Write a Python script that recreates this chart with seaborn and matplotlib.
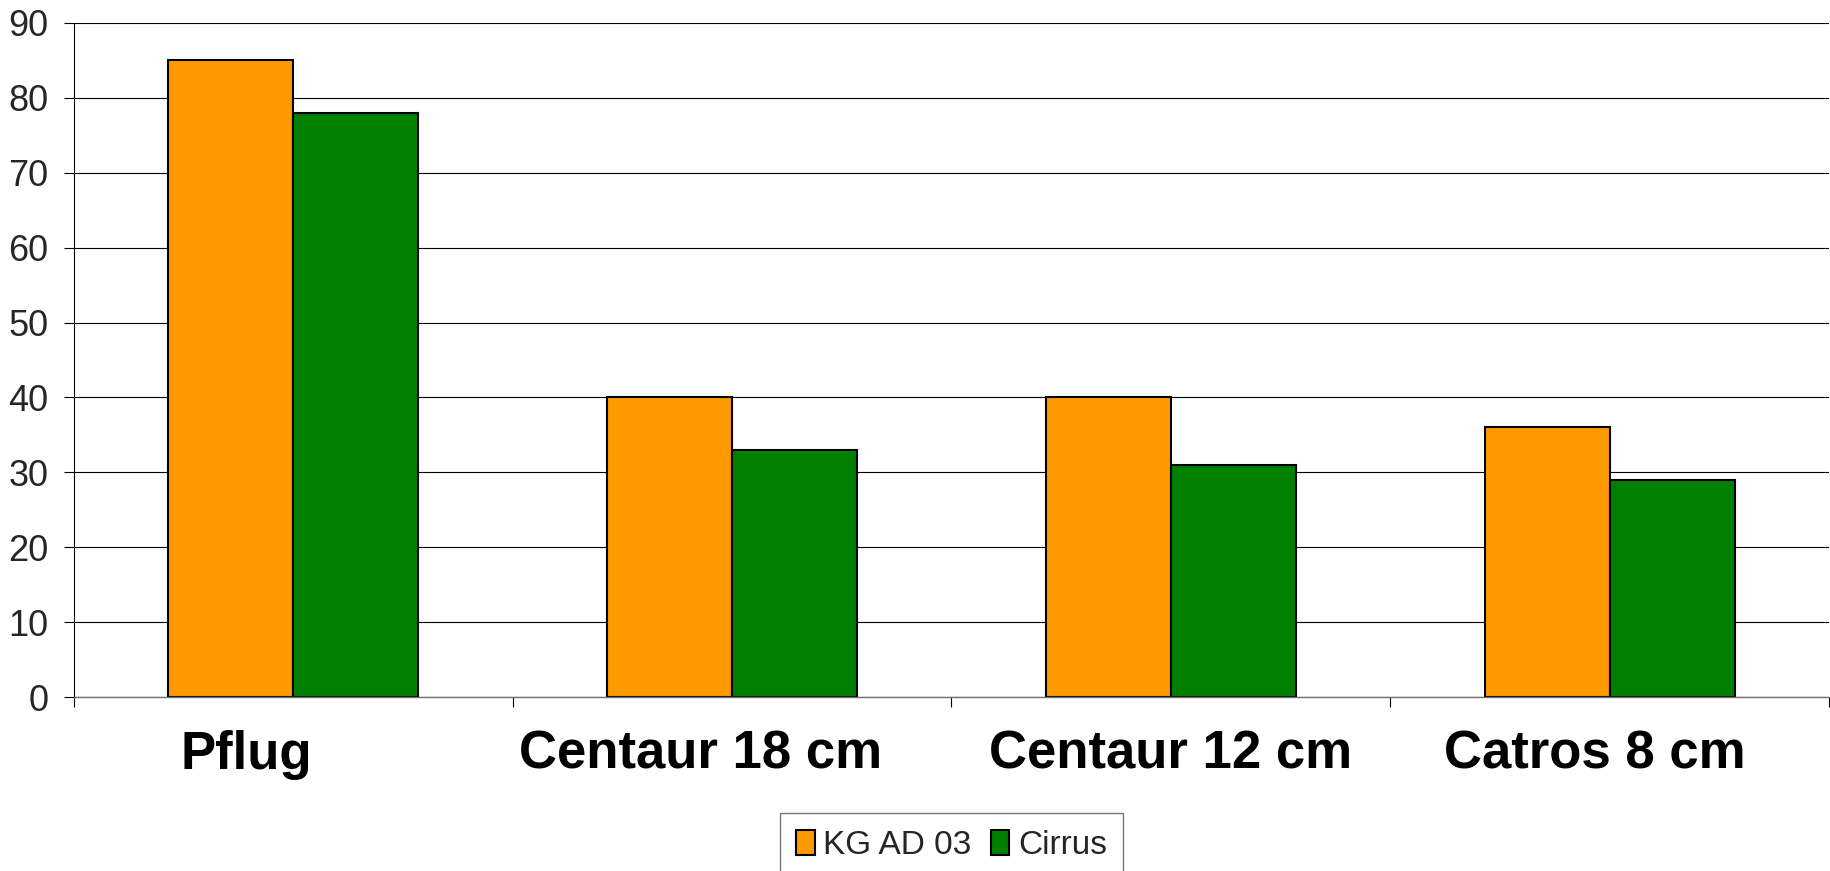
import matplotlib
matplotlib.use("Agg")
import matplotlib.pyplot as plt
import matplotlib.transforms as mtransforms
import numpy as np
import pandas as pd
import seaborn as sns

# Tillage variants and the two varieties compared
verfahren = ["Pflug", "Centaur 18 cm", "Centaur 12 cm", "Catros 8 cm"]
sorten = ["KG AD 03", "Cirrus"]
kg_ad_03 = [85, 40, 40, 36]
cirrus = [78, 33, 31, 29]
farben = ["#FF9900", "#008000"]
y_ticks = list(range(0, 100, 10))

df = pd.DataFrame({
    "Verfahren": verfahren * 2,
    "Sorte": [sorten[0]] * len(verfahren) + [sorten[1]] * len(verfahren),
    "Wert": kg_ad_03 + cirrus,
})

sns.set_style("white")
plt.rcParams["font.family"] = ["Liberation Sans", "DejaVu Sans"]

fig = plt.figure(figsize=(18.31, 8.71), dpi=100)
ax = fig.add_axes([74 / 1831, 1 - 697 / 871, (1829 - 74) / 1831, 674 / 871])

sns.barplot(data=df, x="Verfahren", y="Wert", hue="Sorte", order=verfahren,
            hue_order=sorten, palette=farben, width=0.57, edgecolor="black",
            linewidth=1.5, saturation=1, ax=ax)

ax.set_xlim(-0.5, len(verfahren) - 0.5)
ax.set_ylim(0, 90)
ax.set_yticks(y_ticks)
ax.set_axisbelow(True)
ax.yaxis.grid(True, color="black", linewidth=0.8)
ax.xaxis.grid(False)

for s in ["top", "right"]:
    ax.spines[s].set_visible(False)
ax.spines["left"].set_color("black")
ax.spines["left"].set_linewidth(0.8)
ax.spines["bottom"].set_color("#707070")
ax.spines["bottom"].set_linewidth(1.0)

ax.tick_params(axis="y", which="major", direction="out", length=7.2, width=0.8,
               color="black", labelsize=26, pad=11, left=True)
ax.set_xticks(np.arange(-0.5, len(verfahren), 1.0))
ax.set_xticklabels([])
ax.tick_params(axis="x", which="major", direction="out", length=7.2, width=0.8,
               color="black", bottom=True)
ax.set_xlabel("")
ax.set_ylabel("")

# Category names below the axis
label_shift = [-0.107, -0.071, 0.0, -0.034]
trans = mtransforms.blended_transform_factory(ax.transData, ax.transAxes)
for i, name in enumerate(verfahren):
    ax.text(i + label_shift[i], -0.1068, name, transform=trans, ha="center",
            va="baseline", fontsize=38, fontweight="bold", color="black")

handles, labels = ax.get_legend_handles_labels()
if ax.get_legend() is not None:
    ax.get_legend().remove()
leg = fig.legend(handles, labels, loc="upper center",
                 bbox_to_anchor=(951.5 / 1831, 1 - 813 / 871), ncol=2,
                 fontsize=24, frameon=True, fancybox=False, shadow=False,
                 handlelength=0.55, handleheight=0.8, handletextpad=0.25,
                 columnspacing=0.6, borderpad=0.5, borderaxespad=0)
leg.get_frame().set_edgecolor("#555555")
leg.get_frame().set_linewidth(1.0)
for t in leg.get_texts():
    t.set_fontstretch("condensed")

fig.savefig("out.png", dpi=100)
